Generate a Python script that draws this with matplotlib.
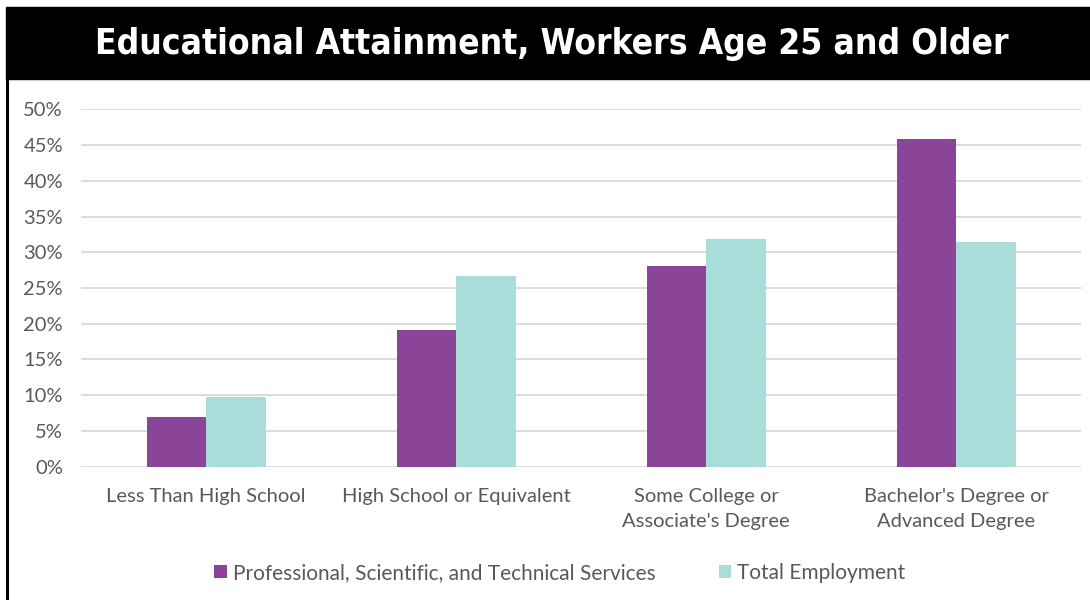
import numpy as np
import matplotlib.pyplot as plt
from matplotlib.patches import Rectangle
from matplotlib.lines import Line2D
from matplotlib import font_manager

categories = ["Less Than High School", "High School or Equivalent",
              "Some College or\nAssociate's Degree", "Bachelor's Degree or\nAdvanced Degree"]
prof_services = [6.9, 19.1, 28.1, 45.8]
total_employment = [9.8, 26.7, 31.9, 31.5]
series_names = ["Professional, Scientific, and Technical Services", "Total Employment"]
yticks = [0, 5, 10, 15, 20, 25, 30, 35, 40, 45, 50]
title = "Educational Attainment, Workers Age 25 and Older"

purple = "#8A4599"
teal = "#A9DDD9"
grey = "#595959"

# narrow bold face for the title if one is installed
narrow = [f for f in font_manager.fontManager.ttflist
          if "Narrow" in f.name or "Condensed" in f.name
          or f.stretch in ("condensed", "semi-condensed")]
bold_narrow = [f for f in narrow if f.weight in ("bold", 700, "semibold", 600, "heavy")]
pick = bold_narrow[0] if bold_narrow else (narrow[0] if narrow else None)
title_prop = font_manager.FontProperties(fname=pick.fname) if pick else \
    font_manager.FontProperties(family="Roboto", weight="bold")

fig = plt.figure(figsize=(10.9, 6), dpi=100)
W, H = 1090, 600

# black title band and left rule
fig.patches.append(Rectangle((6 / W, 1 - 79 / H), 1 - 6 / W, 72 / H,
                             transform=fig.transFigure, color="black", zorder=0))
fig.lines.append(Line2D([7 / W, 7 / W], [0, 1 - 79 / H], transform=fig.transFigure,
                        color="black", lw=2.2))
t = fig.text(552 / W, 1 - 44 / H, title, color="white", fontproperties=title_prop,
             fontsize=34, ha="center", va="center")
if not pick or pick.weight not in ("bold", 700, "semibold", 600, "heavy"):
    t.set_fontweight("bold")
r = fig.canvas.get_renderer()
tw = t.get_window_extent(r).width
if tw > 915:
    t.set_fontsize(34 * 915 / tw)

ax = fig.add_axes([81 / W, 1 - 466.7 / H, 1000 / W, 357.4 / H])
x = np.arange(len(categories))
w = 0.238
ax.bar(x - w / 2, prof_services, w, color=purple, label=series_names[0], zorder=2)
ax.bar(x + w / 2, total_employment, w, color=teal, label=series_names[1], zorder=2)

ax.set_xlim(-0.5, 3.5)
ax.set_ylim(0, 50)
ax.set_yticks(yticks)
ax.set_yticklabels([f"{v}%" for v in yticks], color=grey, fontsize=14.5, family="Lato")
ax.set_xticks(x)
ax.set_xticklabels(categories, color=grey, fontsize=14.5, family="Lato", linespacing=1.6)
ax.tick_params(length=0)
ax.tick_params(axis="y", pad=13)
ax.tick_params(axis="x", pad=15)
ax.grid(axis="y", color="#D9D9D9", lw=1.3, zorder=0)
for s in ax.spines.values():
    s.set_visible(False)

leg = fig.legend(loc="center", bbox_to_anchor=(560 / W, 1 - 573 / H), ncol=2, frameon=False,
                 handlelength=0.6, handleheight=0.6, handletextpad=0.3, columnspacing=3.0,
                 prop={"family": "Lato", "size": 15})
for txt in leg.get_texts():
    txt.set_color(grey)

plt.savefig("out.png", dpi=100)
